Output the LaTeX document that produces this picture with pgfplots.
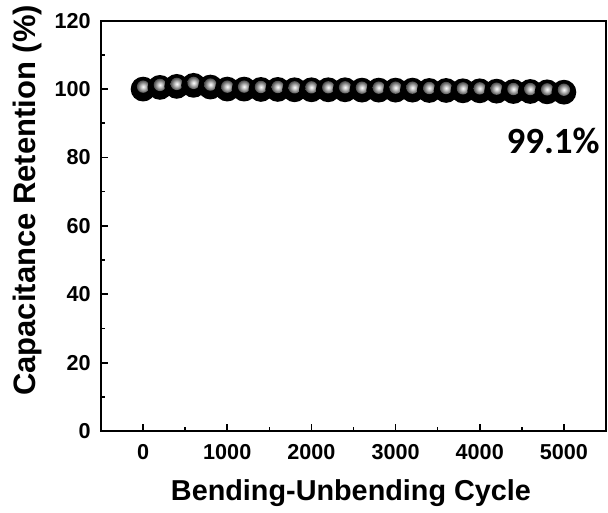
\documentclass[border=0pt]{standalone}
\usepackage{pgfplots}
\pgfplotsset{compat=1.18}
\usepackage{fontspec}
\setmainfont{Liberation Sans}
\newfontfamily\calib{Carlito}

% sphere marker: black disc with a soft light spot near the middle
\pgfdeclareradialshading{glint}{\pgfpointorigin}{%
  color(0bp)=(white); color(8bp)=(white!80!black); color(20bp)=(black!55);
  color(34bp)=(black!90); color(50bp)=(black)}
\pgfdeclareplotmark{ball}{%
  \pgfsetfillcolor{black}%
  \pgfpathcircle{\pgfpointorigin}{\pgfplotmarksize}%
  \pgfusepath{fill}%
  \pgfpathcircle{\pgfpoint{0pt}{0.2\pgfplotmarksize}}{0.5\pgfplotmarksize}%
  \pgfshadepath{glint}{0}%
  \pgfusepath{discard}}

\pgfplotstableread{
cycle ret
0    100.0
200  100.5
400  100.8
600  101.1
800  100.6
1000 100.0
1200 100.0
1400 99.9
1600 99.9
1800 99.8
2000 99.8
2200 99.8
2400 99.8
2600 99.7
2800 99.7
3000 99.7
3200 99.7
3400 99.6
3600 99.6
3800 99.5
4000 99.5
4200 99.4
4400 99.3
4600 99.3
4800 99.2
5000 99.1
}\retention

\begin{document}
\begin{tikzpicture}
\begin{axis}[
  scale only axis,
  width=252.5pt, height=205.2pt,
  xmin=-500, xmax=5500,
  ymin=0, ymax=120,
  xtick={0,1000,...,5000},
  ytick={0,20,...,120},
  minor x tick num=1,
  minor y tick num=1,
  xtick pos=left, ytick pos=left,
  major tick length=3.5pt, minor tick length=2pt,
  every tick/.style={black, line width=0.8pt},
  axis line style={line width=1pt},
  /pgf/number format/assume math mode=true,
  /pgf/number format/1000 sep={},
  tick label style={font=\fontsize{10.8}{12}\selectfont\bfseries, inner sep=0pt},
  xticklabel style={anchor=base, yshift=-14pt},
  yticklabel style={anchor=east, xshift=-5pt},
  xlabel={Bending-Unbending Cycle},
  ylabel={Capacitance Retention (\%)},
  xlabel style={font=\fontsize{14.4}{17}\selectfont\bfseries,
    at={(axis description cs:0.495,-0.1499)}, anchor=center},
  ylabel style={font=\fontsize{15.5}{18}\selectfont\bfseries,
    at={(axis description cs:-0.1455,0.562)}, anchor=center},
  clip=false,
]
\addplot[only marks, mark=ball, mark size=6.2pt] table[x=cycle, y=ret] {\retention};
\node[anchor=base east, inner sep=0pt, font=\calib\fontsize{18.5}{21}\selectfont\bfseries]
  at (axis cs:5429,81.3) {99.1\%};
\end{axis}
\pgfresetboundingbox
\path[use as bounding box]
  ([shift={(-50.5pt,-40.5pt)}]current axis.south west) rectangle
  ([shift={(1pt,10.35pt)}]current axis.north east);
\end{tikzpicture}
\end{document}
